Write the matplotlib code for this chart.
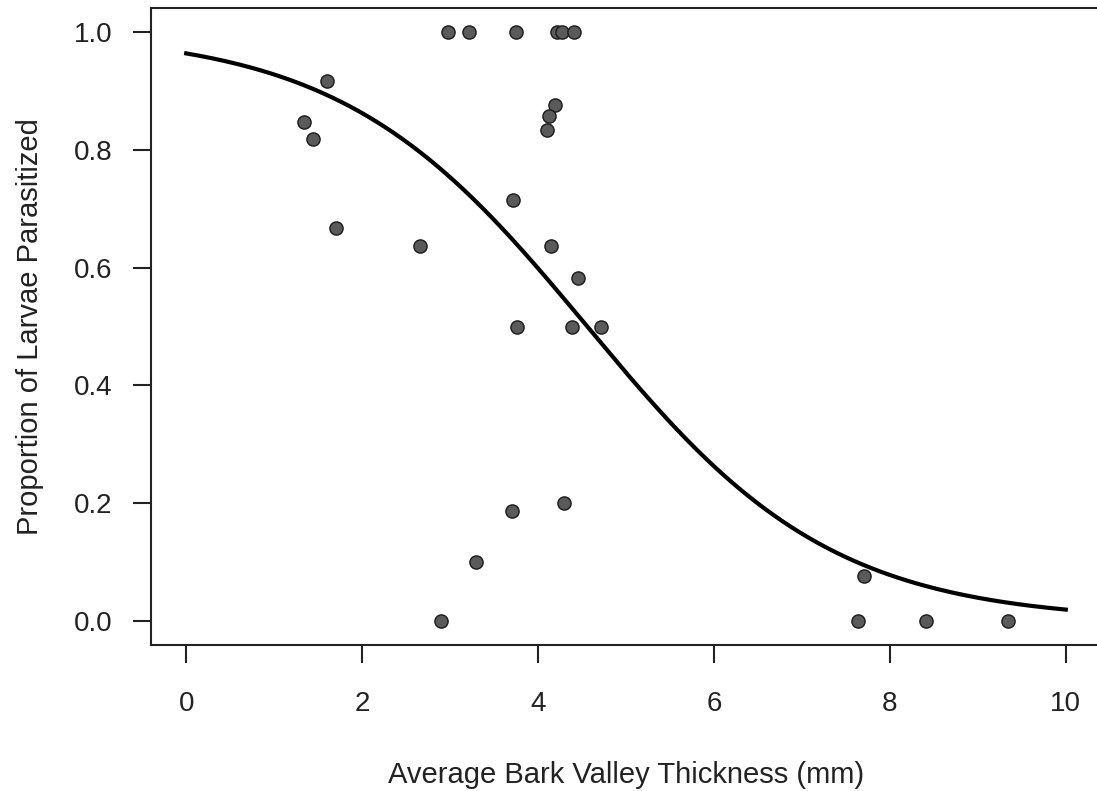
import numpy as np
import matplotlib
matplotlib.use("Agg")
import matplotlib.pyplot as plt

plt.rcParams['font.family'] = ['Liberation Sans', 'DejaVu Sans']

# Observed data points
thickness = [2.98, 3.22, 3.75, 4.22, 4.27, 4.41,
             4.19, 4.13, 4.10, 3.72, 4.15, 4.45,
             3.76, 4.39, 4.72, 2.66, 1.60, 1.34,
             1.44, 1.70, 3.70, 4.30, 3.30, 2.90,
             7.64, 7.70, 8.41, 9.34]
proportion = [1.0, 1.0, 1.0, 1.0, 1.0, 1.0,
              0.875, 0.857, 0.833, 0.714, 0.636, 0.583,
              0.5, 0.5, 0.5, 0.636, 0.917, 0.846,
              0.818, 0.667, 0.1875, 0.2, 0.1, 0.0,
              0.0, 0.077, 0.0, 0.0]

# Fitted logistic model
intercept = 3.26
slope = -0.715
curve_x = np.linspace(0, 10, 200)
curve_y = 1 / (1 + np.exp(-(intercept + slope * curve_x)))

xticks = [0, 2, 4, 6, 8, 10]
yticks = [0.0, 0.2, 0.4, 0.6, 0.8, 1.0]

fig = plt.figure(figsize=(10.97, 7.91), dpi=100)
ax = fig.add_axes([151/1097, 1 - 645/791, (1101 - 151)/1097, (645 - 8)/791])

ax.plot(curve_x, curve_y, color='black', lw=3.0, zorder=2)
ax.plot(thickness, proportion, 'o', ms=9.5, mfc='#5a5a5a', mec='#1a1a1a', mew=1.0, zorder=3)

ax.set_xlim(-0.4, 10.4)
ax.set_ylim(-0.04, 1.04)
ax.set_xticks(xticks)
ax.set_xticklabels([str(t) for t in xticks])
ax.set_yticks(yticks)
ax.set_yticklabels([f"{t:.1f}" for t in yticks])

for s in ax.spines.values():
    s.set_linewidth(1.5)
    s.set_color('#222222')
ax.tick_params(direction='out', length=13, width=1.5, color='#222222',
               labelsize=20, labelcolor='#222222')
ax.tick_params(axis='x', pad=20)
ax.tick_params(axis='y', pad=15)
ax.set_xlabel('Average Bark Valley Thickness (mm)', fontsize=21, color='#222222', labelpad=32)
ax.set_ylabel('Proportion of Larvae Parasitized', fontsize=21, color='#222222', labelpad=21)

fig.savefig('out.png', dpi=100)
